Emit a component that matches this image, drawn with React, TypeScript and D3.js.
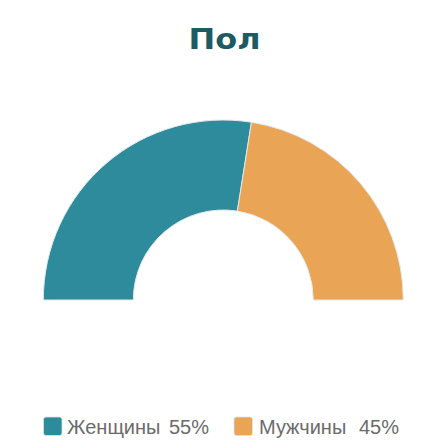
import React from 'react'
import * as d3 from 'd3'

const categories = ['Женщины', 'Мужчины']
const shares = [55, 45]
const valueLabels = ['55%', '45%']
const colors = ['#2d8b9b', '#e9a455']

const width = 446
const height = 448
const cx = 223.3
const cy = 300
const outerR = 180
const innerR = 90

export default function App() {
  const pie = d3
    .pie<number>()
    .sort(null)
    .startAngle(-Math.PI / 2)
    .endAngle(Math.PI / 2)
  const arcs = pie(shares)
  const arc = d3.arc<d3.PieArcDatum<number>>().innerRadius(innerR).outerRadius(outerR)

  // legend items: swatch x, name x, value x
  const legendPos = [
    { sw: 43.5, name: 67, value: 169 },
    { sw: 234, name: 259, value: 359 },
  ]

  return (
    <svg
      width={width}
      height={height}
      style={{ position: 'absolute', left: 0, top: 0, background: '#fff' }}
      fontFamily="'Liberation Sans', Arial, sans-serif"
    >
      <text
        transform="translate(224.5,48.5) scale(1.12,1)"
        textAnchor="middle"
        fontSize={28.5}
        fontWeight="bold"
        fill="#1d5b63"
        fontFamily="'DejaVu Sans', sans-serif"
      >
        Пол
      </text>
      <g transform={`translate(${cx},${cy})`}>
        {arcs.map((a, i) => (
          <path key={i} d={arc(a) || ''} fill={colors[i]} stroke="#e4e9ec" strokeWidth={1} />
        ))}
      </g>
      <g>
        {categories.map((c, i) => (
          <g key={c}>
            <rect
              x={legendPos[i].sw}
              y={417}
              width={18.5}
              height={18.5}
              rx={2.5}
              fill={colors[i]}
              stroke="#dde3e6"
              strokeWidth={0.8}
            />
            <text x={legendPos[i].name} y={434} fontSize={20} fill="#6b6b6b">
              {c}
            </text>
            <text x={legendPos[i].value} y={434} fontSize={20} fill="#6b6b6b">
              {valueLabels[i]}
            </text>
          </g>
        ))}
      </g>
    </svg>
  )
}
